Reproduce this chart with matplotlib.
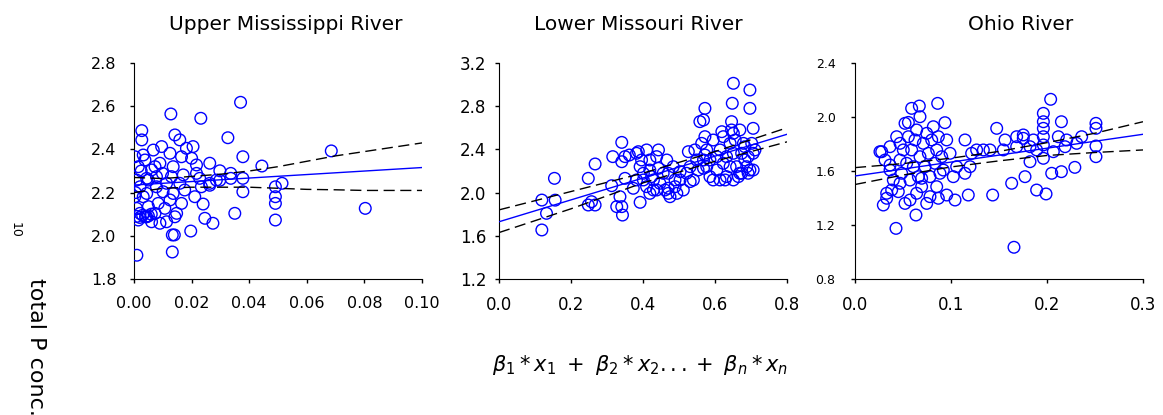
import numpy as np
import matplotlib.pyplot as plt

plt.rcParams['font.family'] = ['DejaVu Sans']

# Upper Mississippi River: observed points
umr_x = [0.001, 0.0027, 0.0128, 0.0232, 0.037, 0.0326, 0.0378, 0.0444, 0.0685, 0.0803,
         0.0491, 0.0491, 0.0491, 0.0491, 0.0514, 0.035, 0.0378, 0.0378, 0.0133, 0.0133,
         0.014, 0.0197, 0.0274, 0.0246, 0.024, 0.0211, 0.0263, 0.0298, 0.0336, 0.0336,
         0.0298, 0.0263,
         0.0003, 0.0009, 0.0003, 0.0009, 0.0021, 0.0015, 0.0021, 0.0038, 0.0044, 0.0044,
         0.005, 0.0061, 0.0067, 0.0073, 0.0078, 0.0084, 0.0096, 0.0099, 0.0101, 0.0107,
         0.009, 0.0125, 0.013, 0.0136, 0.0136, 0.0142, 0.0148, 0.0159, 0.0165, 0.0171,
         0.0176, 0.0165, 0.0182, 0.0205, 0.02, 0.0217, 0.0217, 0.0228, 0.0234, 0.0263,
         0.0061, 0.0027, 0.0032, 0.0073, 0.0113, 0.0125, 0.0142, 0.0078, 0.0113, 0.0159,
         0.009, 0.0015, 0.0044, 0.0032, 0.005, 0.0286, 0.001, 0.002, 0.003, 0.004,
         0.005, 0.006, 0.0005, 0.0025]
umr_y = [1.91, 2.487, 2.564, 2.544, 2.618, 2.454, 2.366, 2.323, 2.393, 2.127,
         2.227, 2.181, 2.15, 2.073, 2.243, 2.104, 2.204, 2.266, 1.925, 2.004,
         2.004, 2.022, 2.058, 2.081, 2.147, 2.181, 2.336, 2.301, 2.289, 2.266,
         2.257, 2.234,
         2.366, 2.258, 2.181, 2.127, 2.104, 2.32, 2.227, 2.351, 2.266, 2.196,
         2.135, 2.065, 2.397, 2.32, 2.227, 2.15, 2.413, 2.289, 2.204, 2.127,
         2.058, 2.382, 2.274, 2.32, 2.196, 2.467, 2.104, 2.444, 2.366, 2.282,
         2.212, 2.15, 2.405, 2.413, 2.359, 2.328, 2.289, 2.266, 2.227, 2.243,
         2.305, 2.444, 2.181, 2.104, 2.065, 2.166, 2.088, 2.274, 2.243, 2.243,
         2.336, 2.073, 2.088, 2.374, 2.258, 2.258, 2.09, 2.085, 2.095, 2.088,
         2.092, 2.1, 2.2, 2.3]
umr_fit_x = [0.0, 0.10]
umr_fit_y = [2.235, 2.316]
umr_ci_x = [0.0, 0.01, 0.02, 0.03, 0.04, 0.05, 0.06, 0.07, 0.08, 0.09, 0.10]
umr_ci_hi = [2.27, 2.265, 2.275, 2.285, 2.30, 2.32, 2.345, 2.37, 2.39, 2.41, 2.43]
umr_ci_lo = [2.20, 2.22, 2.225, 2.225, 2.225, 2.22, 2.215, 2.213, 2.21, 2.21, 2.21]

# Lower Missouri River
lmr_x = [0.119, 0.119, 0.132, 0.154, 0.156, 0.248, 0.267, 0.257, 0.267, 0.248,
         0.313, 0.316, 0.341, 0.341, 0.35, 0.362, 0.336, 0.341, 0.343, 0.327,
         0.35, 0.392, 0.387, 0.396, 0.401, 0.419, 0.424, 0.438, 0.466, 0.47,
         0.47, 0.475, 0.489, 0.503, 0.512, 0.526, 0.531, 0.558, 0.572, 0.568,
         0.572, 0.572, 0.568, 0.595, 0.605, 0.623, 0.619, 0.646, 0.646, 0.651,
         0.648, 0.697, 0.697, 0.706, 0.697, 0.706, 0.683, 0.651, 0.632, 0.669,
         0.692, 0.679,
         0.392, 0.401, 0.41, 0.419, 0.429, 0.438, 0.443, 0.447, 0.456, 0.461,
         0.429, 0.419, 0.484, 0.489, 0.503, 0.521, 0.531, 0.54, 0.549, 0.382,
         0.373, 0.382, 0.443, 0.41, 0.47, 0.494,
         0.563, 0.577, 0.577, 0.586, 0.595, 0.605, 0.614, 0.623, 0.632, 0.642,
         0.642, 0.651, 0.656, 0.66, 0.665, 0.669, 0.674, 0.683, 0.688, 0.692,
         0.702, 0.706, 0.711, 0.586, 0.614, 0.651, 0.544, 0.553, 0.568, 0.628,
         0.674]
lmr_y = [1.654, 1.931, 1.808, 2.132, 1.93, 2.132, 2.265, 1.916, 1.885, 1.885,
         2.064, 2.333, 2.465, 2.286, 2.333, 2.348, 1.962, 1.87, 1.792, 1.87,
         2.132, 1.91, 2.379, 2.302, 2.179, 2.302, 2.148, 2.024, 2.302, 1.993,
         2.04, 1.962, 2.117, 2.194, 2.024, 2.379, 2.102, 2.657, 2.78, 2.672,
         2.518, 2.348, 2.225, 2.117, 2.333, 2.518, 2.564, 2.657, 2.58, 3.012,
         2.827, 2.95, 2.78, 2.595, 2.209, 2.364, 2.302, 2.117, 2.148, 2.179,
         2.179, 2.456,
         2.24, 2.117, 2.055, 2.209, 2.117, 2.333, 2.225, 2.086, 2.179, 2.024,
         2.024, 1.993, 2.24, 2.055, 2.117, 2.179, 2.24, 2.117, 2.302, 2.117,
         2.04, 2.364, 2.395, 2.395, 2.179, 1.993,
         2.456, 2.395, 2.24, 2.302, 2.487, 2.209, 2.395, 2.271, 2.333, 2.456,
         2.24, 2.364, 2.487, 2.24, 2.148, 2.58, 2.364, 2.425, 2.24, 2.333,
         2.456, 2.209, 2.395, 2.148, 2.117, 2.549, 2.395, 2.209, 2.302, 2.117,
         2.179]
lmr_fit_x = [0.0, 0.8]
lmr_fit_y = [1.73, 2.54]
lmr_ci_x = [0.0, 0.2, 0.4, 0.6, 0.8]
lmr_ci_hi = [1.84, 2.01, 2.18, 2.38, 2.60]
lmr_ci_lo = [1.63, 1.85, 2.09, 2.29, 2.47]

# Ohio River
ohio_x = [0.0427, 0.1656, 0.2038, 0.0861, 0.067, 0.059, 0.0937, 0.0556, 0.1476, 0.1563,
          0.1962, 0.1962, 0.1962, 0.215, 0.1962, 0.1753, 0.1753, 0.1823, 0.1823, 0.1771,
          0.1892, 0.199, 0.2049, 0.215, 0.229, 0.2188, 0.2118, 0.2361, 0.251, 0.251,
          0.251, 0.251, 0.1962, 0.1632, 0.1434, 0.1337, 0.1215, 0.1146, 0.1198, 0.1146,
          0.118, 0.1042, 0.0955, 0.0868, 0.0747, 0.0635, 0.0521, 0.0451, 0.033, 0.0295,
          0.033, 0.0278, 0.0434, 0.0469, 0.0365,
          0.026, 0.0313, 0.0365, 0.0399, 0.0469, 0.0486, 0.0503, 0.0538, 0.0556, 0.0573,
          0.059, 0.0608, 0.0625, 0.0642, 0.066, 0.0677, 0.0694, 0.0712, 0.0729, 0.0747,
          0.0764, 0.0781, 0.0799, 0.0816, 0.0833, 0.0851, 0.0868, 0.0885, 0.0903, 0.092,
          0.0955, 0.099, 0.1024, 0.1059, 0.0573, 0.0642, 0.0781, 0.0851, 0.0469, 0.0382,
          0.0521, 0.0677, 0.0365, 0.0694,
          0.1267, 0.1406, 0.1545, 0.1684, 0.1892, 0.2066, 0.1962, 0.2205, 0.2309, 0.1858,
          0.1684]
ohio_y = [1.175, 1.035, 2.131, 2.101, 2.081, 2.064, 1.958, 1.96, 1.916, 1.83,
          2.027, 1.965, 1.916, 1.965, 1.854, 1.867, 1.842, 1.78, 1.669, 1.558,
          1.459, 1.43, 1.583, 1.595, 1.627, 1.78, 1.854, 1.854, 1.953, 1.916,
          1.785, 1.706, 1.694, 1.509, 1.422, 1.756, 1.731, 1.83, 1.632, 1.583,
          1.422, 1.385, 1.422, 1.398, 1.36, 1.274, 1.36, 1.447, 1.398, 1.348,
          1.435, 1.743, 1.854, 1.805, 1.644,
          1.743, 1.681, 1.78, 1.533, 1.681, 1.583, 1.756, 1.657, 1.854, 1.533,
          1.756, 1.632, 1.83, 1.904, 1.558, 1.706, 1.484, 1.805, 1.632, 1.879,
          1.731, 1.558, 1.83, 1.928, 1.657, 1.756, 1.854, 1.583, 1.706, 1.607,
          1.83, 1.731, 1.558, 1.632, 1.385, 1.435, 1.41, 1.484, 1.509, 1.459,
          1.953, 2.002, 1.607, 1.546,
          1.756, 1.756, 1.756, 1.78, 1.756, 1.743, 1.793, 1.83, 1.805, 1.83,
          1.854]
ohio_fit_x = [0.0, 0.3]
ohio_fit_y = [1.563, 1.872]
ohio_ci_x = [0.0, 0.05, 0.1, 0.15, 0.2, 0.25, 0.3]
ohio_ci_hi = [1.625, 1.655, 1.695, 1.745, 1.81, 1.88, 1.965]
ohio_ci_lo = [1.50, 1.57, 1.63, 1.675, 1.715, 1.737, 1.756]

# title, data, ticks, axes left (px), title centre (px), tick label sizes, y pad
panels = [
    ('Upper Mississippi River', umr_x, umr_y, umr_fit_x, umr_fit_y, umr_ci_x, umr_ci_hi, umr_ci_lo,
     np.arange(0, 0.101, 0.02), '%.2f', np.arange(1.8, 2.81, 0.2), 134, 286, 11.5, 11.5, 9.5),
    ('Lower Missouri River', lmr_x, lmr_y, lmr_fit_x, lmr_fit_y, lmr_ci_x, lmr_ci_hi, lmr_ci_lo,
     np.arange(0, 0.81, 0.2), '%.1f', np.arange(1.2, 3.21, 0.4), 499, 638, 12, 12, 6),
    ('Ohio River', ohio_x, ohio_y, ohio_fit_x, ohio_fit_y, ohio_ci_x, ohio_ci_hi, ohio_ci_lo,
     np.arange(0, 0.31, 0.1), '%.1f', np.arange(0.8, 2.41, 0.4), 855, 1021, 12, 9, 11),
]

W, H = 1163, 415
fig = plt.figure(figsize=(W / 100, H / 100), dpi=100)

for (title, x, y, fx, fy, cx, chi, clo, xt, xfmt, yt, left, tx, xls, yls, ypad) in panels:
    ax = fig.add_axes([left / W, 1 - 279 / H, 288 / W, 216 / H])
    ax.scatter(x, y, s=70, facecolors='none', edgecolors='#0000ff', linewidths=1.0, zorder=3)
    ax.plot(fx, fy, color='#0000ff', lw=1.0, zorder=4)
    ax.plot(cx, chi, color='black', lw=1.0, dashes=(8, 4), zorder=4)
    ax.plot(cx, clo, color='black', lw=1.0, dashes=(8, 4), zorder=4)
    ax.set_xlim(xt[0], xt[-1])
    ax.set_ylim(yt[0], yt[-1])
    ax.set_xticks(xt)
    ax.set_xticklabels([xfmt % v for v in xt])
    ax.set_yticks(yt)
    ax.set_yticklabels(['%.1f' % v for v in yt])
    for s in ['top', 'right']:
        ax.spines[s].set_visible(False)
    ax.tick_params(direction='out', length=3, width=1, colors='black')
    ax.tick_params(axis='x', labelsize=xls, pad=9)
    ax.tick_params(axis='y', labelsize=yls, pad=ypad)
    ax.patch.set_alpha(0)
    fig.text(tx / W, 1 - 25 / H, title, ha='center', va='center', fontsize=14.5)

fig.text(640 / W, 1 - 365 / H, r'$\beta_1 * x_1\ +\ \beta_2 * x_2 ...+\ \beta_n * x_n$',
         ha='center', va='center', fontsize=15)
fig.text(15 / W, 1 - 230 / H, '10', rotation=-90, ha='center', va='center', fontsize=9)
fig.text(36 / W, 1 - 278 / H, 'total P conc.', rotation=-90, ha='center', va='top', fontsize=16)

fig.savefig('out.png', dpi=100)
